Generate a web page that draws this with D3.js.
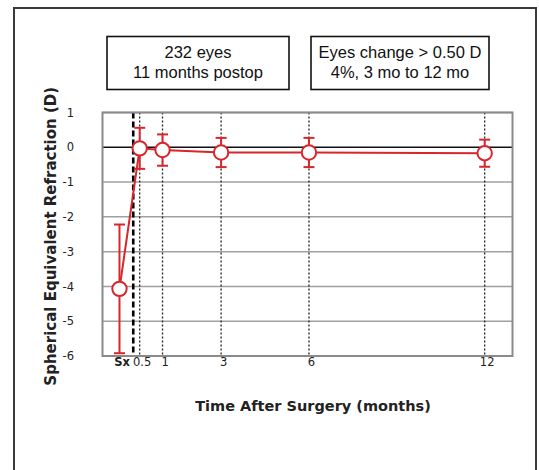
<!DOCTYPE html>
<html>
<head>
<meta charset="utf-8">
<script src="https://cdn.jsdelivr.net/npm/d3@7"></script>
<style>
  html, body { margin: 0; padding: 0; background: #fff; }
  svg { display: block; }
</style>
</head>
<body>
<svg id="chart" width="539" height="470"></svg>
<script>
// ---- data ----
const categories = ["Sx", "0.5", "1", "3", "6", "12"];
const timePositions = [-0.47, 0.22, 1, 3, 6, 12];   // months (as placed on the axis)
const meanSE = [-4.07, -0.03, -0.08, -0.15, -0.15, -0.17];
const sdSE = [1.85, 0.59, 0.45, 0.42, 0.42, 0.39];
const yTickValues = [1, 0, -1, -2, -3, -4, -5, -6];
const surgeryTime = [0];
const boxTexts = [
  ["232 eyes", "11 months postop"],
  ["Eyes change > 0.50 D", "4%, 3 mo to 12 mo"]
];
const xTitle = "Time After Surgery (months)";
const yTitle = "Spherical Equivalent Refraction (D)";

// ---- layout ----
const svg = d3.select("#chart");
const plot = { left: 102.5, right: 512.5, top: 112.5, bottom: 356 };
const x = d3.scaleLinear().domain([-1.05, 12.95]).range([plot.left, plot.right]);
const y = d3.scaleLinear().domain([-6, 1]).range([plot.bottom, plot.top]);
const red = "#d7262c";

// outer frame
svg.append("rect").attr("x", 14).attr("y", 8).attr("width", 522).attr("height", 480)
  .attr("fill", "none").attr("stroke", "#3a3a3a").attr("stroke-width", 2);

// annotation boxes
const boxes = [{ x0: 107, x1: 289 }, { x0: 311, x1: 489 }];
boxes.forEach((b, i) => {
  const g = svg.append("g");
  g.append("rect").attr("x", b.x0).attr("y", 36.5).attr("width", b.x1 - b.x0).attr("height", 53)
    .attr("fill", "#fff").attr("stroke", "#111").attr("stroke-width", 1.6);
  boxTexts[i].forEach((t, j) => {
    g.append("text").attr("x", (b.x0 + b.x1) / 2).attr("y", 57.5 + j * 20)
      .attr("text-anchor", "middle")
      .attr("font-family", "Liberation Sans, Arial, sans-serif")
      .attr("font-size", 16.5).attr("fill", "#111").text(t);
  });
});

// horizontal gridlines
svg.append("g").selectAll("line").data(yTickValues).join("line")
  .attr("x1", plot.left).attr("x2", plot.right)
  .attr("y1", d => y(d)).attr("y2", d => y(d))
  .attr("stroke", d => d === 0 ? "#111" : "#a0a0a0")
  .attr("stroke-width", 1.5);

// vertical dotted lines at time points (except Sx)
svg.append("g").selectAll("line").data(timePositions.slice(1)).join("line")
  .attr("x1", d => x(d)).attr("x2", d => x(d))
  .attr("y1", plot.top).attr("y2", plot.bottom)
  .attr("stroke", "#222").attr("stroke-width", 1.3).attr("stroke-dasharray", "2,2");

// surgery dashed line
svg.append("g").selectAll("line").data(surgeryTime).join("line")
  .attr("x1", d => x(d)).attr("x2", d => x(d))
  .attr("y1", plot.top).attr("y2", plot.bottom)
  .attr("stroke", "#000").attr("stroke-width", 2.6).attr("stroke-dasharray", "6,3");

// plot frame
svg.append("rect").attr("x", plot.left).attr("y", plot.top)
  .attr("width", plot.right - plot.left).attr("height", plot.bottom - plot.top)
  .attr("fill", "none").attr("stroke", "#8a8a8a").attr("stroke-width", 2);

// y axis labels
const yAxis = d3.axisLeft(y).tickValues(yTickValues).tickSize(0).tickPadding(0)
  .tickFormat(d => d3.format("d")(d).replace("\u2212", "-"));
const yg = svg.append("g").attr("transform", `translate(74,0)`).call(yAxis);
yg.select(".domain").remove();
yg.selectAll("text").attr("font-family", "DejaVu Sans, Verdana, sans-serif")
  .attr("font-size", 11.5).attr("fill", "#222");

// x axis labels
const xAxis = d3.axisBottom(x).tickValues(timePositions).tickSize(0).tickPadding(0)
  .tickFormat((d, i) => categories[i]);
const xg = svg.append("g").attr("transform", `translate(2,358)`).call(xAxis);
xg.select(".domain").remove();
xg.selectAll("text").attr("font-family", "DejaVu Sans, Verdana, sans-serif")
  .attr("font-size", 11.5).attr("fill", "#222")
  .attr("font-weight", (d, i) => i === 0 ? "bold" : "normal");

// axis titles
svg.append("text").attr("x", 313).attr("y", 411).attr("text-anchor", "middle")
  .attr("font-family", "DejaVu Sans, Verdana, sans-serif").attr("font-weight", "bold")
  .attr("font-size", 14.5).attr("fill", "#222").text(xTitle);
svg.append("text").attr("transform", `translate(56,${(plot.top + plot.bottom) / 2 + 2}) rotate(-90)`)
  .attr("text-anchor", "middle")
  .attr("font-family", "DejaVu Sans, Verdana, sans-serif").attr("font-weight", "bold")
  .attr("font-size", 15).attr("fill", "#222").text(yTitle);

// data
const data = categories.map((c, i) => ({ c, t: timePositions[i], m: meanSE[i], s: sdSE[i] }));

// error bars
const eb = svg.append("g").attr("stroke", red).attr("stroke-width", 2).attr("fill", "none");
eb.selectAll("line.v").data(data).join("line").attr("class", "v")
  .attr("x1", d => x(d.t)).attr("x2", d => x(d.t))
  .attr("y1", d => y(d.m + d.s)).attr("y2", d => y(d.m - d.s));
["top", "bot"].forEach(k => {
  eb.selectAll("line." + k).data(data).join("line").attr("class", k)
    .attr("x1", d => x(d.t) - 5.5).attr("x2", d => x(d.t) + 5.5)
    .attr("y1", d => y(k === "top" ? d.m + d.s : d.m - d.s))
    .attr("y2", d => y(k === "top" ? d.m + d.s : d.m - d.s));
});

// line
svg.append("path").datum(data)
  .attr("d", d3.line().x(d => x(d.t)).y(d => y(d.m)))
  .attr("fill", "none").attr("stroke", red).attr("stroke-width", 2);

// markers
svg.append("g").selectAll("circle").data(data).join("circle")
  .attr("cx", d => x(d.t)).attr("cy", d => y(d.m)).attr("r", 7.2)
  .attr("fill", "#fff").attr("stroke", red).attr("stroke-width", 2);
</script>
</body>
</html>
